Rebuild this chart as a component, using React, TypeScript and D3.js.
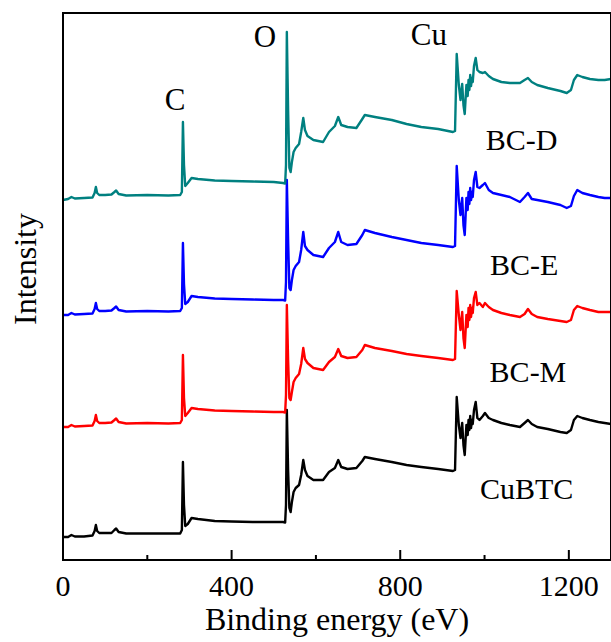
import { useEffect, useRef } from 'react';
import * as d3 from "d3";

// binding energy (eV), shared by every spectrum
const energy = [
  0, 12, 20, 28, 50, 70, 75, 78, 81, 86,
  100, 115, 122, 126, 132, 150, 200, 250, 278, 282,
  284.5, 287, 290, 296, 305, 320, 360, 400, 450, 500,
  522, 527, 529, 531, 534, 537, 540, 543, 547, 552,
  560, 565, 570, 574, 580, 594, 617, 631, 645, 653,
  660, 675, 696, 710, 716, 740, 780, 815, 850, 890,
  925, 930, 934, 939, 943, 947, 950, 953, 957, 960,
  962, 964, 966, 968, 970, 972, 975, 979, 983, 988,
  996, 1001, 1010, 1020, 1040, 1060, 1084, 1095, 1103, 1112,
  1125, 1150, 1180, 1195, 1205, 1212, 1220, 1232, 1250, 1270,
  1285, 1300
];

// intensities (a.u., already stacked)
const cubtc = [
  23, 23, 25, 23.5, 23.5, 24.5, 29, 35, 29, 27,
  27, 27, 30, 31.5, 28, 26.5, 26.5, 26.5, 26.5, 30,
  98, 55, 34, 36, 42, 41, 39, 38.5, 38, 38,
  38, 37.5, 55, 150, 90, 52, 48, 58, 68, 72,
  75, 85, 100, 90, 84, 80, 80, 88, 92, 100,
  93, 91, 92, 99, 103, 101, 98, 95, 93, 91,
  89, 90, 163, 135, 122, 137, 115, 105, 135, 125,
  140, 130, 144, 132, 140, 136, 150, 158, 142, 140,
  144, 147, 142, 140, 137, 135, 133, 137, 140, 136,
  133, 131, 128, 127, 130, 140, 144, 142, 140, 138,
  137, 136
];
const bcM = [
  133, 133, 135, 133.5, 134, 134.5, 139, 145, 139, 137,
  137, 137.5, 140, 141.5, 138, 136.5, 137, 136.5, 137, 140,
  205, 162, 144, 147, 152, 151, 149.5, 149, 148.5, 148,
  148, 147.5, 165, 255, 200, 162, 160, 168, 178, 182,
  186, 196, 212, 201, 197, 192, 190, 198, 203, 211,
  204, 202, 203, 210, 215, 212, 209, 206, 204, 202,
  200, 201, 269, 245, 230, 248, 222, 212, 245, 233,
  252, 240, 255, 243, 252, 247, 262, 268, 255, 257,
  253, 257, 253, 250, 247, 245, 243, 246, 251, 246,
  243, 241, 239, 238, 240, 250, 254, 252, 250, 248,
  248, 248
];
const bcE = [
  245, 245, 247, 245.5, 246, 246.5, 251, 257, 251, 249,
  249, 249.5, 252, 253.5, 250, 248.5, 249, 248.5, 249, 252,
  317, 276, 256, 258, 264, 263, 261.5, 261, 260.5, 260,
  260, 259.5, 278, 380, 320, 272, 270, 280, 290, 294,
  298, 310, 328, 314, 310, 305, 303, 312, 318, 328,
  318, 315, 316, 325, 330, 327, 323, 320, 317, 315,
  313, 314, 394, 360, 345, 362, 335, 325, 362, 350,
  368, 356, 372, 360, 368, 363, 380, 388, 373, 372,
  375, 377, 370, 367, 365, 363, 358, 363, 367, 361,
  360, 358, 355, 352, 354, 364, 370, 367, 365, 363,
  362, 362
];
const bcD = [
  360, 361, 363, 361.5, 362, 362.5, 367, 373, 367, 365,
  365, 365.5, 368, 369.5, 366, 364.5, 365, 364.5, 365, 368,
  438, 395, 374, 377, 382, 381, 379.5, 379, 378.5, 378,
  377, 376.5, 395, 528, 450, 392, 388, 398, 408, 412,
  416, 428, 442, 430, 424, 420, 418, 428, 434, 443,
  435, 433, 432, 441, 445, 443, 440, 436, 433, 431,
  428, 429, 506, 475, 460, 476, 455, 446, 475, 464,
  480, 470, 485, 474, 482, 478, 494, 502, 490, 488,
  487, 488, 484, 481, 478, 477, 477, 480, 482, 478,
  475, 472, 469, 467, 470, 480, 485, 483, 481, 480,
  480, 481
];

const seriesNames = ["CuBTC", "BC-M", "BC-E", "BC-D"];
const seriesValues = [cubtc, bcM, bcE, bcD];
const seriesColors = ["#000000", "#ff0000", "#0000ff", "#008080"];

const majorTicks = [0, 400, 800, 1200];
const minorTicks = [200, 600, 1000];

const FONT = "'Liberation Serif', 'Times New Roman', serif";

export default function App() {
  const ref = useRef<SVGSVGElement>(null);

  useEffect(() => {
    const svg = d3.select(ref.current);
    svg.selectAll("*").remove();

    const margin = { top: 13, left: 63, right: 0, bottom: 82 };
    const W = 611, H = 642;
    const width = W - margin.left - margin.right;
    const height = H - margin.top - margin.bottom;

    const x = d3.scaleLinear().domain([0, 1300]).range([0, width]);
    const y = d3.scaleLinear().domain([0, 547]).range([height, 0]);

    const g = svg.append("g")
      .attr("transform", "translate(" + margin.left + "," + margin.top + ")");

    const line = d3.line<number>()
      .x((d, i) => x(energy[i]))
      .y(d => y(d));

    seriesValues.forEach((vals, k) => {
      g.append("path")
        .datum(vals)
        .attr("fill", "none")
        .attr("stroke", seriesColors[k])
        .attr("stroke-width", 2.4)
        .attr("stroke-linejoin", "round")
        .attr("d", line);
    });

    // frame
    g.append("rect")
      .attr("x", 0).attr("y", 0)
      .attr("width", width).attr("height", height)
      .attr("fill", "none")
      .attr("stroke", "#000")
      .attr("stroke-width", 2);

    // inward ticks
    g.selectAll(".major").data(majorTicks).enter().append("line")
      .attr("x1", d => x(d)).attr("x2", d => x(d))
      .attr("y1", height).attr("y2", height - 10)
      .attr("stroke", "#000").attr("stroke-width", 2);
    g.selectAll(".minor").data(minorTicks).enter().append("line")
      .attr("x1", d => x(d)).attr("x2", d => x(d))
      .attr("y1", height).attr("y2", height - 5)
      .attr("stroke", "#000").attr("stroke-width", 2);

    g.selectAll(".tlabel").data(majorTicks).enter().append("text")
      .attr("x", d => x(d))
      .attr("y", height + 36)
      .attr("text-anchor", "middle")
      .style("font-family", FONT)
      .style("font-size", "30px")
      .text(d => d);

    g.append("text")
      .attr("x", width / 2)
      .attr("y", height + 70)
      .attr("text-anchor", "middle")
      .style("font-family", FONT)
      .style("font-size", "32px")
      .text("Binding energy (eV)");

    g.append("text")
      .attr("transform", "rotate(-90)")
      .attr("x", -(269 - margin.top))
      .attr("y", -27)
      .attr("text-anchor", "middle")
      .style("font-family", FONT)
      .style("font-size", "32px")
      .text("Intensity");

    // element labels
    const peaks = [
      { t: "C", e: 266, v: 450 },
      { t: "O", e: 479, v: 513 },
      { t: "Cu", e: 868, v: 515 },
    ];
    peaks.forEach(p => {
      g.append("text")
        .attr("x", x(p.e)).attr("y", y(p.v))
        .attr("text-anchor", "middle")
        .style("font-family", FONT)
        .style("font-size", "31px")
        .text(p.t);
    });

    // series labels
    const labelPos = [
      { e: 1100, v: 61 },
      { e: 1103, v: 178 },
      { e: 1094, v: 285 },
      { e: 1088, v: 410 },
    ];
    seriesNames.forEach((n, k) => {
      g.append("text")
        .attr("x", x(labelPos[k].e)).attr("y", y(labelPos[k].v))
        .attr("text-anchor", "middle")
        .style("font-family", FONT)
        .style("font-size", "30px")
        .text(n);
    });
  }, []);

  return (
    <svg ref={ref} width={611} height={642}
      style={{ position: "absolute", left: 0, top: 0, background: "#fff" }} />
  );
}
